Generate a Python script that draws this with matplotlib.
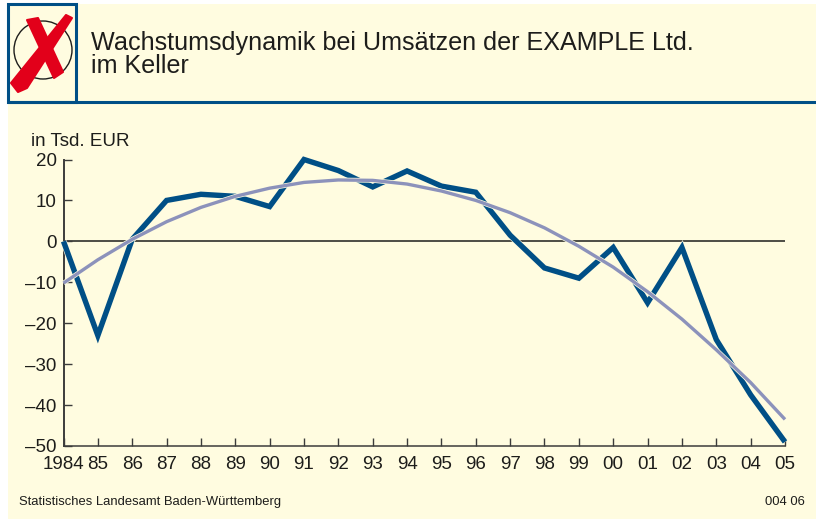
import matplotlib
matplotlib.use('Agg')
import matplotlib.pyplot as plt
import matplotlib.patheffects as pe
from matplotlib.patches import Circle, Polygon, Rectangle

plt.rcParams['font.family'] = ['Liberation Sans', 'DejaVu Sans']

W, H = 816, 519
BG = '#fffce0'
BLUE = '#004f86'
GREY = '#8c92bb'
RED = '#e2001a'
DARK = '#1d1d1b'

years = ['1984', '85', '86', '87', '88', '89', '90', '91', '92', '93', '94',
         '95', '96', '97', '98', '99', '00', '01', '02', '03', '04', '05']
umsatz = [0, -23, 0.5, 10, 11.5, 11, 8.5, 20, 17.3, 13.3, 17.2,
          13.5, 12, 1.5, -6.5, -9, -1.5, -15, -1.5, -24, -37.5, -49]
trend = [-10.2, -4.5, 0.5, 4.8, 8.3, 11, 13, 14.4, 15, 14.9, 14,
         12.3, 10, 7, 3.3, -1.2, -6.3, -12.3, -19, -26.5, -34.5, -43.5]
y_ticks = [20, 10, 0, -10, -20, -30, -40, -50]
y_labels = ['20', '10', '0', '\u201310', '\u201320', '\u201330', '\u201340', '\u201350']

fig = plt.figure(figsize=(W / 100, H / 100), dpi=100, facecolor='white')

# Hintergrund und Kopf in Pixelkoordinaten
bg = fig.add_axes([0, 0, 1, 1])
bg.set_xlim(0, W)
bg.set_ylim(H, 0)
bg.axis('off')
bg.add_patch(Rectangle((8, 4), W - 8, H - 4, fc=BG, ec='none'))
bg.plot([8, W], [102, 102], color=BLUE, lw=2.2, solid_capstyle='butt')
bg.add_patch(Rectangle((8, 4), 68, 98, fc='none', ec=BLUE, lw=2.2))
bg.add_patch(Circle((43, 50), 29, fc='none', ec=DARK, lw=1))
# rotes Kreuz
bg.add_patch(Polygon([(11, 83), (66, 15), (72, 18), (27, 88), (18, 92)],
                     fc=RED, ec=RED, lw=1.5, joinstyle='round'))
bg.add_patch(Polygon([(27, 20), (38, 18), (63, 72), (54, 78)],
                     fc=RED, ec=RED, lw=1.5, joinstyle='round'))

bg.text(91, 43, 'Wachstumsdynamik bei Umsätzen der EXAMPLE Ltd.', fontsize=18.1,
        color=DARK, va='center', ha='left')
bg.text(91, 66, 'im Keller', fontsize=18.1, color=DARK, va='center', ha='left')
bg.text(31, 141, 'in Tsd. EUR', fontsize=13.5, color=DARK, va='center', ha='left')
bg.text(19, 502, 'Statistisches Landesamt Baden-Württemberg', fontsize=9.4,
        color=DARK, va='center', ha='left')
bg.text(805, 502, '004 06', fontsize=9.4, color=DARK, va='center', ha='right')

# Diagramm
x0, x1, y_top, y_bot = 63.5, 785, 159.5, 446
ax = fig.add_axes([x0 / W, 1 - y_bot / H, (x1 - x0) / W, (y_bot - y_top) / H])
ax.patch.set_alpha(0)
xs = list(range(len(years)))
ax.set_xlim(0, len(years) - 1)
ax.set_ylim(-50, 20)

ax.axhline(0, color=DARK, lw=1.1, zorder=1)
ax.plot(xs, umsatz, color=BLUE, lw=3.9, solid_joinstyle='miter',
        solid_capstyle='butt', clip_on=False, zorder=3,
        path_effects=[pe.withStroke(linewidth=4.8, foreground=BG)])
ax.plot(xs, trend, color=GREY, lw=2.4, solid_capstyle='butt', clip_on=False, zorder=4,
        path_effects=[pe.withStroke(linewidth=3.4, foreground=BG)])

for s in ['top', 'right']:
    ax.spines[s].set_visible(False)
ax.spines['left'].set_linewidth(1.4)
ax.spines['left'].set_color('#3c3c3b')
ax.spines['bottom'].set_linewidth(1.1)
ax.spines['bottom'].set_color('#3c3c3b')

ax.set_xticks(xs)
ax.set_xticklabels(years)
ax.set_yticks(y_ticks)
ax.set_yticklabels(y_labels)
ax.tick_params(axis='x', direction='in', length=6, width=1, color='#3c3c3b',
               labelsize=13.5, labelcolor=DARK, pad=7)
ax.tick_params(axis='y', direction='in', length=6, width=1, color='#3c3c3b',
               labelsize=13.5, labelcolor=DARK, pad=5)

fig.savefig('out.png', dpi=100, facecolor='white')
